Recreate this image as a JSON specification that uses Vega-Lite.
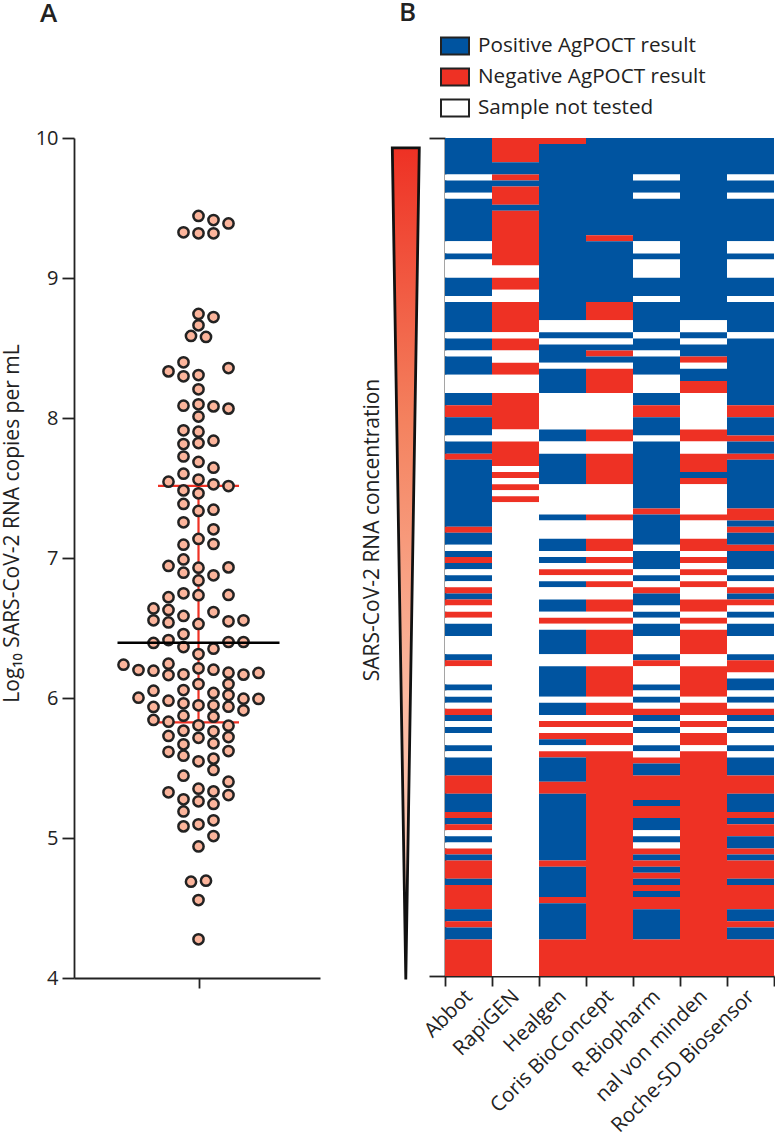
{"$schema":"https://vega.github.io/schema/vega-lite/v6.json","bounds":"flush","spacing":25,"padding":{"left":1,"top":0,"right":0,"bottom":0},"background":"white","config":{"font":"Open Sans","view":{"stroke":null},"axis":{"domainColor":"#222","tickColor":"#222","domainWidth":1.8,"tickWidth":1.8,"labelColor":"#222","titleColor":"#222","grid":false,"labelFont":"Open Sans","titleFont":"Open Sans","titleFontWeight":"normal"},"title":{"font":"Open Sans","fontWeight":600,"fontSize":26,"color":"#222"}},"hconcat":[{"width":246,"height":840,"title":{"text":"A","anchor":"start","frame":"group","offset":101,"dx":-34},"layer":[{"data":{"values":[{"offset":-2.7,"offset2":2.7,"q":7.515},{"offset":-2.7,"offset2":2.7,"q":5.826}]},"mark":{"type":"rule","color":"#ee3124","strokeWidth":2.2},"encoding":{"x":{"field":"offset","type":"quantitative"},"x2":{"field":"offset2"},"y":{"field":"q","type":"quantitative"}}},{"data":{"values":[{"low":5.826,"high":7.515,"offset":0}]},"mark":{"type":"rule","color":"#ee3124","strokeWidth":2.2},"encoding":{"x":{"field":"offset","type":"quantitative"},"y":{"field":"low","type":"quantitative"},"y2":{"field":"high"}}},{"data":{"values":[{"offset":0,"value":9.443},{"offset":1,"value":9.414},{"offset":2,"value":9.39},{"offset":-1,"value":9.326},{"offset":0,"value":9.319},{"offset":1,"value":9.319},{"offset":0,"value":8.743},{"offset":1,"value":8.721},{"offset":0,"value":8.662},{"offset":-0.5,"value":8.586},{"offset":0.5,"value":8.579},{"offset":-1,"value":8.398},{"offset":-2,"value":8.333},{"offset":-1,"value":8.298},{"offset":0,"value":8.307},{"offset":2,"value":8.357},{"offset":0,"value":8.205},{"offset":-1,"value":8.088},{"offset":0,"value":8.098},{"offset":1,"value":8.083},{"offset":2,"value":8.067},{"offset":0,"value":8.01},{"offset":-1,"value":7.912},{"offset":0,"value":7.902},{"offset":-1,"value":7.814},{"offset":0,"value":7.821},{"offset":1,"value":7.838},{"offset":-1,"value":7.725},{"offset":0,"value":7.686},{"offset":1,"value":7.645},{"offset":-1,"value":7.602},{"offset":-2,"value":7.545},{"offset":0,"value":7.56},{"offset":1,"value":7.526},{"offset":2,"value":7.514},{"offset":-1,"value":7.483},{"offset":0,"value":7.462},{"offset":-1,"value":7.386},{"offset":0,"value":7.336},{"offset":1,"value":7.345},{"offset":-1,"value":7.255},{"offset":1,"value":7.205},{"offset":0,"value":7.136},{"offset":1,"value":7.1},{"offset":-1,"value":7.095},{"offset":-1,"value":6.99},{"offset":-2,"value":6.943},{"offset":0,"value":6.931},{"offset":2,"value":6.933},{"offset":-1,"value":6.895},{"offset":1,"value":6.876},{"offset":0,"value":6.84},{"offset":-1,"value":6.748},{"offset":0,"value":6.734},{"offset":2,"value":6.736},{"offset":-2,"value":6.72},{"offset":-3,"value":6.64},{"offset":-2,"value":6.629},{"offset":1,"value":6.614},{"offset":-1,"value":6.586},{"offset":-3,"value":6.555},{"offset":-2,"value":6.54},{"offset":2,"value":6.548},{"offset":3,"value":6.555},{"offset":0,"value":6.529},{"offset":-1,"value":6.457},{"offset":-2,"value":6.414},{"offset":-3,"value":6.393},{"offset":2,"value":6.4},{"offset":3,"value":6.4},{"offset":-1,"value":6.364},{"offset":1,"value":6.352},{"offset":0,"value":6.314},{"offset":-2,"value":6.245},{"offset":-5,"value":6.238},{"offset":-4,"value":6.2},{"offset":-3,"value":6.195},{"offset":0,"value":6.212},{"offset":1,"value":6.202},{"offset":-2,"value":6.164},{"offset":-1,"value":6.169},{"offset":2,"value":6.181},{"offset":3,"value":6.167},{"offset":4,"value":6.179},{"offset":2,"value":6.1},{"offset":0,"value":6.1},{"offset":-3,"value":6.052},{"offset":-1,"value":6.057},{"offset":1,"value":6.036},{"offset":2,"value":6.021},{"offset":-4,"value":6.002},{"offset":3,"value":5.995},{"offset":4,"value":5.993},{"offset":-2,"value":5.981},{"offset":-1,"value":5.962},{"offset":0,"value":5.948},{"offset":1,"value":5.948},{"offset":2,"value":5.938},{"offset":-3,"value":5.936},{"offset":3,"value":5.912},{"offset":-1,"value":5.874},{"offset":1,"value":5.867},{"offset":-3,"value":5.843},{"offset":-2,"value":5.831},{"offset":0,"value":5.805},{"offset":2,"value":5.802},{"offset":-1,"value":5.767},{"offset":1,"value":5.762},{"offset":-2,"value":5.729},{"offset":0,"value":5.716},{"offset":2,"value":5.721},{"offset":-1,"value":5.669},{"offset":1,"value":5.676},{"offset":-2,"value":5.616},{"offset":-1,"value":5.588},{"offset":2,"value":5.621},{"offset":0,"value":5.548},{"offset":1,"value":5.567},{"offset":1,"value":5.486},{"offset":-1,"value":5.445},{"offset":2,"value":5.402},{"offset":0,"value":5.352},{"offset":1,"value":5.333},{"offset":-2,"value":5.326},{"offset":2,"value":5.307},{"offset":-1,"value":5.276},{"offset":0,"value":5.262},{"offset":1,"value":5.243},{"offset":-1,"value":5.19},{"offset":1,"value":5.126},{"offset":0,"value":5.098},{"offset":-1,"value":5.083},{"offset":1,"value":5.014},{"offset":0,"value":4.94},{"offset":0.5,"value":4.695},{"offset":-0.5,"value":4.688},{"offset":0,"value":4.557},{"offset":0,"value":4.276}]},"mark":{"type":"point","filled":false,"fill":"#fbb49b","fillOpacity":1,"stroke":"#222","strokeWidth":2.5,"size":105,"opacity":1},"encoding":{"x":{"field":"offset","type":"quantitative","scale":{"domain":[-8.3,8.1],"nice":false,"zero":false},"axis":{"values":[0],"labels":false,"title":null,"tickSize":10}},"y":{"field":"value","type":"quantitative","scale":{"domain":[4,10],"nice":false,"zero":false},"axis":{"values":[4,5,6,7,8,9,10],"tickSize":12,"labelFontSize":20,"labelPadding":4,"titleFontSize":21,"titlePadding":12.5,"titleY":385,"title":"Log₁₀ SARS-CoV-2 RNA copies per mL","format":"d"}}}},{"data":{"values":[{"offset":-5.4,"offset2":5.4,"median":6.395}]},"mark":{"type":"rule","color":"#000","strokeWidth":2.4},"encoding":{"x":{"field":"offset","type":"quantitative"},"x2":{"field":"offset2"},"y":{"field":"median","type":"quantitative"}}}]},{"width":75,"height":840,"layer":[{"data":{"values":[{"level":9.93,"left":47.3,"right":74.3},{"level":3.99,"left":60.8,"right":60.8}]},"mark":{"type":"area","orient":"horizontal","clip":false,"stroke":"#111","strokeWidth":2.8,"strokeJoin":"miter","fill":{"gradient":"linear","x1":0,"y1":0,"x2":0,"y2":1,"stops":[{"offset":0,"color":"#ee3124"},{"offset":0.33,"color":"#f4825f"},{"offset":0.66,"color":"#fbb9a0"},{"offset":1,"color":"#fcd5c5"}]}},"encoding":{"y":{"field":"level","type":"quantitative","scale":{"domain":[4,10],"nice":false,"zero":false},"axis":null},"x":{"field":"left","type":"quantitative","scale":{"domain":[0,75],"nice":false,"zero":false},"axis":null},"x2":{"field":"right"}}},{"data":{"values":[{"level":7.2,"pos":28,"label":"SARS-CoV-2 RNA concentration"}]},"mark":{"type":"text","angle":270,"fontSize":21,"font":"Open Sans","color":"#222","align":"center","baseline":"middle"},"encoding":{"y":{"field":"level","type":"quantitative"},"x":{"field":"pos","type":"quantitative"},"text":{"field":"label"}}}],"resolve":{"scale":{"x":"shared","y":"shared"}}},{"width":329,"height":838,"title":{"text":"B","anchor":"start","frame":"group","offset":111,"dx":-46},"data":{"values":[{"assay":"Abbot","start":0,"end":6,"result":"Positive"},{"assay":"Abbot","start":6,"end":7,"result":"Not tested"},{"assay":"Abbot","start":7,"end":9,"result":"Positive"},{"assay":"Abbot","start":9,"end":10,"result":"Not tested"},{"assay":"Abbot","start":10,"end":17,"result":"Positive"},{"assay":"Abbot","start":17,"end":19,"result":"Not tested"},{"assay":"Abbot","start":19,"end":20,"result":"Positive"},{"assay":"Abbot","start":20,"end":23,"result":"Not tested"},{"assay":"Abbot","start":23,"end":26,"result":"Positive"},{"assay":"Abbot","start":26,"end":27,"result":"Not tested"},{"assay":"Abbot","start":27,"end":32,"result":"Positive"},{"assay":"Abbot","start":32,"end":33,"result":"Not tested"},{"assay":"Abbot","start":33,"end":35,"result":"Positive"},{"assay":"Abbot","start":35,"end":36,"result":"Not tested"},{"assay":"Abbot","start":36,"end":39,"result":"Positive"},{"assay":"Abbot","start":39,"end":42,"result":"Not tested"},{"assay":"Abbot","start":42,"end":44,"result":"Positive"},{"assay":"Abbot","start":44,"end":46,"result":"Negative"},{"assay":"Abbot","start":46,"end":49,"result":"Positive"},{"assay":"Abbot","start":49,"end":50,"result":"Not tested"},{"assay":"Abbot","start":50,"end":52,"result":"Positive"},{"assay":"Abbot","start":52,"end":53,"result":"Negative"},{"assay":"Abbot","start":53,"end":64,"result":"Positive"},{"assay":"Abbot","start":64,"end":65,"result":"Negative"},{"assay":"Abbot","start":65,"end":67,"result":"Positive"},{"assay":"Abbot","start":67,"end":68,"result":"Not tested"},{"assay":"Abbot","start":68,"end":69,"result":"Positive"},{"assay":"Abbot","start":69,"end":70,"result":"Negative"},{"assay":"Abbot","start":70,"end":71,"result":"Positive"},{"assay":"Abbot","start":71,"end":72,"result":"Not tested"},{"assay":"Abbot","start":72,"end":73,"result":"Positive"},{"assay":"Abbot","start":73,"end":74,"result":"Not tested"},{"assay":"Abbot","start":74,"end":75,"result":"Negative"},{"assay":"Abbot","start":75,"end":76,"result":"Positive"},{"assay":"Abbot","start":76,"end":77,"result":"Negative"},{"assay":"Abbot","start":77,"end":78,"result":"Not tested"},{"assay":"Abbot","start":78,"end":79,"result":"Negative"},{"assay":"Abbot","start":79,"end":80,"result":"Not tested"},{"assay":"Abbot","start":80,"end":82,"result":"Positive"},{"assay":"Abbot","start":82,"end":85,"result":"Not tested"},{"assay":"Abbot","start":85,"end":86,"result":"Positive"},{"assay":"Abbot","start":86,"end":87,"result":"Negative"},{"assay":"Abbot","start":87,"end":90,"result":"Not tested"},{"assay":"Abbot","start":90,"end":91,"result":"Positive"},{"assay":"Abbot","start":91,"end":92,"result":"Not tested"},{"assay":"Abbot","start":92,"end":93,"result":"Positive"},{"assay":"Abbot","start":93,"end":94,"result":"Not tested"},{"assay":"Abbot","start":94,"end":95,"result":"Negative"},{"assay":"Abbot","start":95,"end":96,"result":"Positive"},{"assay":"Abbot","start":96,"end":97,"result":"Not tested"},{"assay":"Abbot","start":97,"end":98,"result":"Positive"},{"assay":"Abbot","start":98,"end":100,"result":"Not tested"},{"assay":"Abbot","start":100,"end":101,"result":"Positive"},{"assay":"Abbot","start":101,"end":102,"result":"Not tested"},{"assay":"Abbot","start":102,"end":105,"result":"Positive"},{"assay":"Abbot","start":105,"end":108,"result":"Negative"},{"assay":"Abbot","start":108,"end":111,"result":"Positive"},{"assay":"Abbot","start":111,"end":112,"result":"Negative"},{"assay":"Abbot","start":112,"end":113,"result":"Positive"},{"assay":"Abbot","start":113,"end":114,"result":"Negative"},{"assay":"Abbot","start":114,"end":115,"result":"Not tested"},{"assay":"Abbot","start":115,"end":116,"result":"Positive"},{"assay":"Abbot","start":116,"end":117,"result":"Not tested"},{"assay":"Abbot","start":117,"end":118,"result":"Negative"},{"assay":"Abbot","start":118,"end":119,"result":"Positive"},{"assay":"Abbot","start":119,"end":122,"result":"Negative"},{"assay":"Abbot","start":122,"end":123,"result":"Positive"},{"assay":"Abbot","start":123,"end":127,"result":"Negative"},{"assay":"Abbot","start":127,"end":129,"result":"Positive"},{"assay":"Abbot","start":129,"end":130,"result":"Negative"},{"assay":"Abbot","start":130,"end":132,"result":"Positive"},{"assay":"Abbot","start":132,"end":138,"result":"Negative"},{"assay":"RapiGEN","start":0,"end":4,"result":"Negative"},{"assay":"RapiGEN","start":4,"end":6,"result":"Positive"},{"assay":"RapiGEN","start":6,"end":7,"result":"Negative"},{"assay":"RapiGEN","start":7,"end":8,"result":"Positive"},{"assay":"RapiGEN","start":8,"end":11,"result":"Negative"},{"assay":"RapiGEN","start":11,"end":12,"result":"Positive"},{"assay":"RapiGEN","start":12,"end":21,"result":"Negative"},{"assay":"RapiGEN","start":21,"end":23,"result":"Not tested"},{"assay":"RapiGEN","start":23,"end":25,"result":"Negative"},{"assay":"RapiGEN","start":25,"end":27,"result":"Not tested"},{"assay":"RapiGEN","start":27,"end":32,"result":"Negative"},{"assay":"RapiGEN","start":32,"end":33,"result":"Not tested"},{"assay":"RapiGEN","start":33,"end":35,"result":"Negative"},{"assay":"RapiGEN","start":35,"end":37,"result":"Not tested"},{"assay":"RapiGEN","start":37,"end":39,"result":"Negative"},{"assay":"RapiGEN","start":39,"end":42,"result":"Not tested"},{"assay":"RapiGEN","start":42,"end":48,"result":"Negative"},{"assay":"RapiGEN","start":48,"end":50,"result":"Not tested"},{"assay":"RapiGEN","start":50,"end":54,"result":"Negative"},{"assay":"RapiGEN","start":54,"end":55,"result":"Not tested"},{"assay":"RapiGEN","start":55,"end":56,"result":"Negative"},{"assay":"RapiGEN","start":56,"end":57,"result":"Not tested"},{"assay":"RapiGEN","start":57,"end":58,"result":"Negative"},{"assay":"RapiGEN","start":58,"end":59,"result":"Not tested"},{"assay":"RapiGEN","start":59,"end":60,"result":"Negative"},{"assay":"RapiGEN","start":60,"end":138,"result":"Not tested"},{"assay":"Healgen","start":0,"end":1,"result":"Negative"},{"assay":"Healgen","start":1,"end":30,"result":"Positive"},{"assay":"Healgen","start":30,"end":32,"result":"Not tested"},{"assay":"Healgen","start":32,"end":33,"result":"Positive"},{"assay":"Healgen","start":33,"end":34,"result":"Not tested"},{"assay":"Healgen","start":34,"end":37,"result":"Positive"},{"assay":"Healgen","start":37,"end":38,"result":"Not tested"},{"assay":"Healgen","start":38,"end":42,"result":"Positive"},{"assay":"Healgen","start":42,"end":48,"result":"Not tested"},{"assay":"Healgen","start":48,"end":50,"result":"Positive"},{"assay":"Healgen","start":50,"end":52,"result":"Not tested"},{"assay":"Healgen","start":52,"end":57,"result":"Positive"},{"assay":"Healgen","start":57,"end":62,"result":"Not tested"},{"assay":"Healgen","start":62,"end":63,"result":"Positive"},{"assay":"Healgen","start":63,"end":66,"result":"Not tested"},{"assay":"Healgen","start":66,"end":68,"result":"Positive"},{"assay":"Healgen","start":68,"end":69,"result":"Not tested"},{"assay":"Healgen","start":69,"end":70,"result":"Positive"},{"assay":"Healgen","start":70,"end":71,"result":"Not tested"},{"assay":"Healgen","start":71,"end":72,"result":"Negative"},{"assay":"Healgen","start":72,"end":73,"result":"Not tested"},{"assay":"Healgen","start":73,"end":74,"result":"Positive"},{"assay":"Healgen","start":74,"end":76,"result":"Not tested"},{"assay":"Healgen","start":76,"end":78,"result":"Positive"},{"assay":"Healgen","start":78,"end":79,"result":"Not tested"},{"assay":"Healgen","start":79,"end":80,"result":"Negative"},{"assay":"Healgen","start":80,"end":81,"result":"Not tested"},{"assay":"Healgen","start":81,"end":85,"result":"Positive"},{"assay":"Healgen","start":85,"end":87,"result":"Not tested"},{"assay":"Healgen","start":87,"end":92,"result":"Positive"},{"assay":"Healgen","start":92,"end":93,"result":"Not tested"},{"assay":"Healgen","start":93,"end":95,"result":"Positive"},{"assay":"Healgen","start":95,"end":96,"result":"Not tested"},{"assay":"Healgen","start":96,"end":97,"result":"Negative"},{"assay":"Healgen","start":97,"end":98,"result":"Not tested"},{"assay":"Healgen","start":98,"end":99,"result":"Negative"},{"assay":"Healgen","start":99,"end":100,"result":"Positive"},{"assay":"Healgen","start":100,"end":101,"result":"Not tested"},{"assay":"Healgen","start":101,"end":102,"result":"Negative"},{"assay":"Healgen","start":102,"end":106,"result":"Positive"},{"assay":"Healgen","start":106,"end":108,"result":"Negative"},{"assay":"Healgen","start":108,"end":119,"result":"Positive"},{"assay":"Healgen","start":119,"end":120,"result":"Negative"},{"assay":"Healgen","start":120,"end":125,"result":"Positive"},{"assay":"Healgen","start":125,"end":126,"result":"Negative"},{"assay":"Healgen","start":126,"end":132,"result":"Positive"},{"assay":"Healgen","start":132,"end":138,"result":"Negative"},{"assay":"Coris BioConcept","start":0,"end":16,"result":"Positive"},{"assay":"Coris BioConcept","start":16,"end":17,"result":"Negative"},{"assay":"Coris BioConcept","start":17,"end":27,"result":"Positive"},{"assay":"Coris BioConcept","start":27,"end":30,"result":"Negative"},{"assay":"Coris BioConcept","start":30,"end":32,"result":"Not tested"},{"assay":"Coris BioConcept","start":32,"end":33,"result":"Positive"},{"assay":"Coris BioConcept","start":33,"end":34,"result":"Not tested"},{"assay":"Coris BioConcept","start":34,"end":35,"result":"Positive"},{"assay":"Coris BioConcept","start":35,"end":36,"result":"Negative"},{"assay":"Coris BioConcept","start":36,"end":37,"result":"Positive"},{"assay":"Coris BioConcept","start":37,"end":38,"result":"Not tested"},{"assay":"Coris BioConcept","start":38,"end":42,"result":"Negative"},{"assay":"Coris BioConcept","start":42,"end":48,"result":"Not tested"},{"assay":"Coris BioConcept","start":48,"end":50,"result":"Negative"},{"assay":"Coris BioConcept","start":50,"end":52,"result":"Not tested"},{"assay":"Coris BioConcept","start":52,"end":57,"result":"Negative"},{"assay":"Coris BioConcept","start":57,"end":62,"result":"Not tested"},{"assay":"Coris BioConcept","start":62,"end":63,"result":"Negative"},{"assay":"Coris BioConcept","start":63,"end":66,"result":"Not tested"},{"assay":"Coris BioConcept","start":66,"end":68,"result":"Negative"},{"assay":"Coris BioConcept","start":68,"end":69,"result":"Not tested"},{"assay":"Coris BioConcept","start":69,"end":70,"result":"Negative"},{"assay":"Coris BioConcept","start":70,"end":71,"result":"Not tested"},{"assay":"Coris BioConcept","start":71,"end":72,"result":"Negative"},{"assay":"Coris BioConcept","start":72,"end":73,"result":"Not tested"},{"assay":"Coris BioConcept","start":73,"end":74,"result":"Negative"},{"assay":"Coris BioConcept","start":74,"end":76,"result":"Not tested"},{"assay":"Coris BioConcept","start":76,"end":78,"result":"Negative"},{"assay":"Coris BioConcept","start":78,"end":79,"result":"Not tested"},{"assay":"Coris BioConcept","start":79,"end":80,"result":"Negative"},{"assay":"Coris BioConcept","start":80,"end":81,"result":"Not tested"},{"assay":"Coris BioConcept","start":81,"end":85,"result":"Negative"},{"assay":"Coris BioConcept","start":85,"end":87,"result":"Not tested"},{"assay":"Coris BioConcept","start":87,"end":92,"result":"Negative"},{"assay":"Coris BioConcept","start":92,"end":93,"result":"Not tested"},{"assay":"Coris BioConcept","start":93,"end":95,"result":"Negative"},{"assay":"Coris BioConcept","start":95,"end":96,"result":"Not tested"},{"assay":"Coris BioConcept","start":96,"end":97,"result":"Negative"},{"assay":"Coris BioConcept","start":97,"end":98,"result":"Not tested"},{"assay":"Coris BioConcept","start":98,"end":100,"result":"Negative"},{"assay":"Coris BioConcept","start":100,"end":101,"result":"Not tested"},{"assay":"Coris BioConcept","start":101,"end":138,"result":"Negative"},{"assay":"R-Biopharm","start":0,"end":6,"result":"Positive"},{"assay":"R-Biopharm","start":6,"end":7,"result":"Not tested"},{"assay":"R-Biopharm","start":7,"end":9,"result":"Positive"},{"assay":"R-Biopharm","start":9,"end":10,"result":"Not tested"},{"assay":"R-Biopharm","start":10,"end":17,"result":"Positive"},{"assay":"R-Biopharm","start":17,"end":19,"result":"Not tested"},{"assay":"R-Biopharm","start":19,"end":20,"result":"Positive"},{"assay":"R-Biopharm","start":20,"end":23,"result":"Not tested"},{"assay":"R-Biopharm","start":23,"end":26,"result":"Positive"},{"assay":"R-Biopharm","start":26,"end":27,"result":"Not tested"},{"assay":"R-Biopharm","start":27,"end":32,"result":"Positive"},{"assay":"R-Biopharm","start":32,"end":33,"result":"Not tested"},{"assay":"R-Biopharm","start":33,"end":35,"result":"Positive"},{"assay":"R-Biopharm","start":35,"end":36,"result":"Not tested"},{"assay":"R-Biopharm","start":36,"end":39,"result":"Positive"},{"assay":"R-Biopharm","start":39,"end":42,"result":"Not tested"},{"assay":"R-Biopharm","start":42,"end":44,"result":"Positive"},{"assay":"R-Biopharm","start":44,"end":46,"result":"Negative"},{"assay":"R-Biopharm","start":46,"end":49,"result":"Positive"},{"assay":"R-Biopharm","start":49,"end":50,"result":"Not tested"},{"assay":"R-Biopharm","start":50,"end":61,"result":"Positive"},{"assay":"R-Biopharm","start":61,"end":62,"result":"Negative"},{"assay":"R-Biopharm","start":62,"end":67,"result":"Positive"},{"assay":"R-Biopharm","start":67,"end":68,"result":"Not tested"},{"assay":"R-Biopharm","start":68,"end":71,"result":"Positive"},{"assay":"R-Biopharm","start":71,"end":72,"result":"Not tested"},{"assay":"R-Biopharm","start":72,"end":73,"result":"Positive"},{"assay":"R-Biopharm","start":73,"end":74,"result":"Not tested"},{"assay":"R-Biopharm","start":74,"end":75,"result":"Negative"},{"assay":"R-Biopharm","start":75,"end":77,"result":"Positive"},{"assay":"R-Biopharm","start":77,"end":78,"result":"Not tested"},{"assay":"R-Biopharm","start":78,"end":79,"result":"Positive"},{"assay":"R-Biopharm","start":79,"end":80,"result":"Not tested"},{"assay":"R-Biopharm","start":80,"end":82,"result":"Positive"},{"assay":"R-Biopharm","start":82,"end":85,"result":"Not tested"},{"assay":"R-Biopharm","start":85,"end":86,"result":"Positive"},{"assay":"R-Biopharm","start":86,"end":87,"result":"Negative"},{"assay":"R-Biopharm","start":87,"end":90,"result":"Not tested"},{"assay":"R-Biopharm","start":90,"end":91,"result":"Positive"},{"assay":"R-Biopharm","start":91,"end":92,"result":"Not tested"},{"assay":"R-Biopharm","start":92,"end":93,"result":"Positive"},{"assay":"R-Biopharm","start":93,"end":94,"result":"Not tested"},{"assay":"R-Biopharm","start":94,"end":95,"result":"Negative"},{"assay":"R-Biopharm","start":95,"end":96,"result":"Positive"},{"assay":"R-Biopharm","start":96,"end":97,"result":"Not tested"},{"assay":"R-Biopharm","start":97,"end":98,"result":"Positive"},{"assay":"R-Biopharm","start":98,"end":100,"result":"Not tested"},{"assay":"R-Biopharm","start":100,"end":101,"result":"Positive"},{"assay":"R-Biopharm","start":101,"end":102,"result":"Not tested"},{"assay":"R-Biopharm","start":102,"end":103,"result":"Negative"},{"assay":"R-Biopharm","start":103,"end":105,"result":"Positive"},{"assay":"R-Biopharm","start":105,"end":109,"result":"Negative"},{"assay":"R-Biopharm","start":109,"end":110,"result":"Positive"},{"assay":"R-Biopharm","start":110,"end":112,"result":"Negative"},{"assay":"R-Biopharm","start":112,"end":114,"result":"Positive"},{"assay":"R-Biopharm","start":114,"end":115,"result":"Not tested"},{"assay":"R-Biopharm","start":115,"end":116,"result":"Positive"},{"assay":"R-Biopharm","start":116,"end":117,"result":"Not tested"},{"assay":"R-Biopharm","start":117,"end":118,"result":"Negative"},{"assay":"R-Biopharm","start":118,"end":119,"result":"Positive"},{"assay":"R-Biopharm","start":119,"end":120,"result":"Negative"},{"assay":"R-Biopharm","start":120,"end":121,"result":"Positive"},{"assay":"R-Biopharm","start":121,"end":122,"result":"Negative"},{"assay":"R-Biopharm","start":122,"end":123,"result":"Positive"},{"assay":"R-Biopharm","start":123,"end":124,"result":"Negative"},{"assay":"R-Biopharm","start":124,"end":125,"result":"Positive"},{"assay":"R-Biopharm","start":125,"end":127,"result":"Negative"},{"assay":"R-Biopharm","start":127,"end":132,"result":"Positive"},{"assay":"R-Biopharm","start":132,"end":138,"result":"Negative"},{"assay":"nal von minden","start":0,"end":30,"result":"Positive"},{"assay":"nal von minden","start":30,"end":32,"result":"Not tested"},{"assay":"nal von minden","start":32,"end":33,"result":"Positive"},{"assay":"nal von minden","start":33,"end":34,"result":"Not tested"},{"assay":"nal von minden","start":34,"end":36,"result":"Positive"},{"assay":"nal von minden","start":36,"end":37,"result":"Negative"},{"assay":"nal von minden","start":37,"end":38,"result":"Not tested"},{"assay":"nal von minden","start":38,"end":40,"result":"Positive"},{"assay":"nal von minden","start":40,"end":42,"result":"Negative"},{"assay":"nal von minden","start":42,"end":48,"result":"Not tested"},{"assay":"nal von minden","start":48,"end":50,"result":"Negative"},{"assay":"nal von minden","start":50,"end":52,"result":"Not tested"},{"assay":"nal von minden","start":52,"end":55,"result":"Negative"},{"assay":"nal von minden","start":55,"end":56,"result":"Positive"},{"assay":"nal von minden","start":56,"end":57,"result":"Negative"},{"assay":"nal von minden","start":57,"end":62,"result":"Not tested"},{"assay":"nal von minden","start":62,"end":63,"result":"Negative"},{"assay":"nal von minden","start":63,"end":66,"result":"Not tested"},{"assay":"nal von minden","start":66,"end":68,"result":"Negative"},{"assay":"nal von minden","start":68,"end":69,"result":"Not tested"},{"assay":"nal von minden","start":69,"end":70,"result":"Negative"},{"assay":"nal von minden","start":70,"end":71,"result":"Not tested"},{"assay":"nal von minden","start":71,"end":72,"result":"Negative"},{"assay":"nal von minden","start":72,"end":73,"result":"Not tested"},{"assay":"nal von minden","start":73,"end":74,"result":"Negative"},{"assay":"nal von minden","start":74,"end":76,"result":"Not tested"},{"assay":"nal von minden","start":76,"end":78,"result":"Negative"},{"assay":"nal von minden","start":78,"end":79,"result":"Not tested"},{"assay":"nal von minden","start":79,"end":80,"result":"Negative"},{"assay":"nal von minden","start":80,"end":81,"result":"Not tested"},{"assay":"nal von minden","start":81,"end":85,"result":"Negative"},{"assay":"nal von minden","start":85,"end":87,"result":"Not tested"},{"assay":"nal von minden","start":87,"end":92,"result":"Negative"},{"assay":"nal von minden","start":92,"end":93,"result":"Not tested"},{"assay":"nal von minden","start":93,"end":95,"result":"Negative"},{"assay":"nal von minden","start":95,"end":96,"result":"Not tested"},{"assay":"nal von minden","start":96,"end":97,"result":"Negative"},{"assay":"nal von minden","start":97,"end":98,"result":"Not tested"},{"assay":"nal von minden","start":98,"end":100,"result":"Negative"},{"assay":"nal von minden","start":100,"end":101,"result":"Not tested"},{"assay":"nal von minden","start":101,"end":138,"result":"Negative"},{"assay":"Roche-SD Biosensor","start":0,"end":6,"result":"Positive"},{"assay":"Roche-SD Biosensor","start":6,"end":7,"result":"Not tested"},{"assay":"Roche-SD Biosensor","start":7,"end":9,"result":"Positive"},{"assay":"Roche-SD Biosensor","start":9,"end":10,"result":"Not tested"},{"assay":"Roche-SD Biosensor","start":10,"end":17,"result":"Positive"},{"assay":"Roche-SD Biosensor","start":17,"end":19,"result":"Not tested"},{"assay":"Roche-SD Biosensor","start":19,"end":20,"result":"Positive"},{"assay":"Roche-SD Biosensor","start":20,"end":23,"result":"Not tested"},{"assay":"Roche-SD Biosensor","start":23,"end":26,"result":"Positive"},{"assay":"Roche-SD Biosensor","start":26,"end":27,"result":"Not tested"},{"assay":"Roche-SD Biosensor","start":27,"end":32,"result":"Positive"},{"assay":"Roche-SD Biosensor","start":32,"end":33,"result":"Not tested"},{"assay":"Roche-SD Biosensor","start":33,"end":44,"result":"Positive"},{"assay":"Roche-SD Biosensor","start":44,"end":46,"result":"Negative"},{"assay":"Roche-SD Biosensor","start":46,"end":49,"result":"Positive"},{"assay":"Roche-SD Biosensor","start":49,"end":50,"result":"Negative"},{"assay":"Roche-SD Biosensor","start":50,"end":52,"result":"Positive"},{"assay":"Roche-SD Biosensor","start":52,"end":53,"result":"Negative"},{"assay":"Roche-SD Biosensor","start":53,"end":61,"result":"Positive"},{"assay":"Roche-SD Biosensor","start":61,"end":63,"result":"Negative"},{"assay":"Roche-SD Biosensor","start":63,"end":64,"result":"Positive"},{"assay":"Roche-SD Biosensor","start":64,"end":65,"result":"Negative"},{"assay":"Roche-SD Biosensor","start":65,"end":67,"result":"Positive"},{"assay":"Roche-SD Biosensor","start":67,"end":68,"result":"Negative"},{"assay":"Roche-SD Biosensor","start":68,"end":71,"result":"Positive"},{"assay":"Roche-SD Biosensor","start":71,"end":72,"result":"Not tested"},{"assay":"Roche-SD Biosensor","start":72,"end":73,"result":"Positive"},{"assay":"Roche-SD Biosensor","start":73,"end":74,"result":"Not tested"},{"assay":"Roche-SD Biosensor","start":74,"end":75,"result":"Negative"},{"assay":"Roche-SD Biosensor","start":75,"end":76,"result":"Positive"},{"assay":"Roche-SD Biosensor","start":76,"end":77,"result":"Negative"},{"assay":"Roche-SD Biosensor","start":77,"end":78,"result":"Not tested"},{"assay":"Roche-SD Biosensor","start":78,"end":79,"result":"Positive"},{"assay":"Roche-SD Biosensor","start":79,"end":80,"result":"Not tested"},{"assay":"Roche-SD Biosensor","start":80,"end":82,"result":"Positive"},{"assay":"Roche-SD Biosensor","start":82,"end":85,"result":"Not tested"},{"assay":"Roche-SD Biosensor","start":85,"end":86,"result":"Positive"},{"assay":"Roche-SD Biosensor","start":86,"end":88,"result":"Negative"},{"assay":"Roche-SD Biosensor","start":88,"end":89,"result":"Not tested"},{"assay":"Roche-SD Biosensor","start":89,"end":91,"result":"Positive"},{"assay":"Roche-SD Biosensor","start":91,"end":92,"result":"Not tested"},{"assay":"Roche-SD Biosensor","start":92,"end":93,"result":"Positive"},{"assay":"Roche-SD Biosensor","start":93,"end":94,"result":"Not tested"},{"assay":"Roche-SD Biosensor","start":94,"end":95,"result":"Negative"},{"assay":"Roche-SD Biosensor","start":95,"end":96,"result":"Positive"},{"assay":"Roche-SD Biosensor","start":96,"end":97,"result":"Not tested"},{"assay":"Roche-SD Biosensor","start":97,"end":98,"result":"Positive"},{"assay":"Roche-SD Biosensor","start":98,"end":100,"result":"Not tested"},{"assay":"Roche-SD Biosensor","start":100,"end":101,"result":"Positive"},{"assay":"Roche-SD Biosensor","start":101,"end":102,"result":"Not tested"},{"assay":"Roche-SD Biosensor","start":102,"end":105,"result":"Positive"},{"assay":"Roche-SD Biosensor","start":105,"end":108,"result":"Negative"},{"assay":"Roche-SD Biosensor","start":108,"end":111,"result":"Positive"},{"assay":"Roche-SD Biosensor","start":111,"end":112,"result":"Negative"},{"assay":"Roche-SD Biosensor","start":112,"end":113,"result":"Positive"},{"assay":"Roche-SD Biosensor","start":113,"end":115,"result":"Negative"},{"assay":"Roche-SD Biosensor","start":115,"end":117,"result":"Positive"},{"assay":"Roche-SD Biosensor","start":117,"end":118,"result":"Negative"},{"assay":"Roche-SD Biosensor","start":118,"end":119,"result":"Positive"},{"assay":"Roche-SD Biosensor","start":119,"end":122,"result":"Negative"},{"assay":"Roche-SD Biosensor","start":122,"end":123,"result":"Positive"},{"assay":"Roche-SD Biosensor","start":123,"end":127,"result":"Negative"},{"assay":"Roche-SD Biosensor","start":127,"end":129,"result":"Positive"},{"assay":"Roche-SD Biosensor","start":129,"end":130,"result":"Negative"},{"assay":"Roche-SD Biosensor","start":130,"end":132,"result":"Positive"},{"assay":"Roche-SD Biosensor","start":132,"end":138,"result":"Negative"}]},"mark":{"type":"bar","cornerRadius":0},"encoding":{"x":{"field":"assay","type":"nominal","sort":["Abbot","RapiGEN","Healgen","Coris BioConcept","R-Biopharm","nal von minden","Roche-SD Biosensor"],"scale":{"paddingInner":0,"paddingOuter":0},"axis":{"title":null,"labelAngle":-45,"labelFontSize":20.5,"tickBand":"extent","tickSize":10,"labelOffset":-7,"labelPadding":0,"labelColor":"#222","labelLimit":300}},"y":{"field":"start","type":"quantitative","scale":{"domain":[0,138],"reverse":true,"nice":false,"zero":false},"axis":{"values":[0,138],"labels":false,"title":null,"tickSize":16}},"y2":{"field":"end"},"fill":{"field":"result","type":"nominal","scale":{"domain":["Positive","Negative","Not tested"],"range":["#0054a0","#ee3124","#ffffff"]},"legend":{"orient":"none","legendX":366,"legendY":-107,"title":null,"symbolType":"M-1,-0.6H1V0.6H-1Z","symbolSize":784,"symbolStrokeColor":"#222","symbolStrokeWidth":2,"labelFontSize":20.7,"labelFont":"Open Sans","labelColor":"#222","labelLimit":300,"rowPadding":3,"labelOffset":8,"labelExpr":"datum.label == 'Not tested' ? 'Sample not tested' : datum.label + ' AgPOCT result'"}}}}]}
